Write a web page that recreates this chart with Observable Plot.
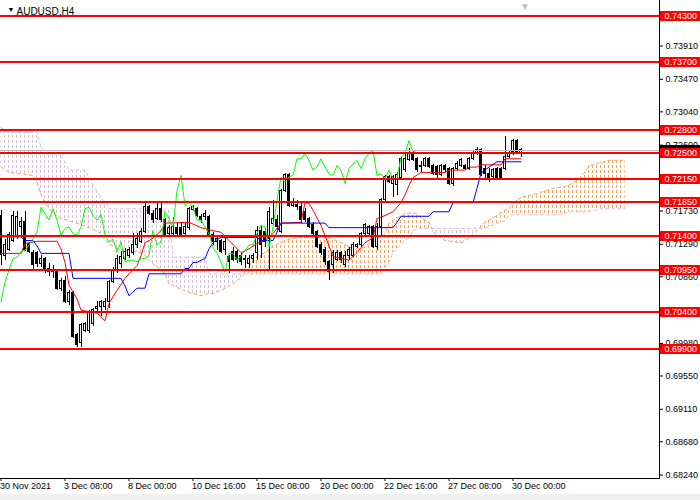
<!DOCTYPE html>
<html>
<head>
<meta charset="utf-8">
<script src="https://cdn.jsdelivr.net/npm/d3@7"></script>
<script src="https://cdn.jsdelivr.net/npm/@observablehq/plot@0.6"></script>
<style>
  body { margin: 0; background: #fff; }
  #chart svg { display: block; }
</style>
</head>
<body>
<div id="chart"></div>
<script>
// AUDUSD H4, one value per bar (bar 0 = first visible bar)
const opens = [0.7167,0.7114,0.7121,0.7134,0.7139,0.7152,0.7158,0.7130,0.7117,0.7117,
  0.7103,0.7110,0.7097,0.7092,0.7092,0.7070,0.7081,0.7053,0.7064,0.7009,
  0.6998,0.7015,0.7015,0.7024,0.7044,0.7046,0.7046,0.7053,0.7079,0.7095,
  0.7103,0.7110,0.7114,0.7117,0.7128,0.7132,0.7145,0.7178,0.7169,0.7163,
  0.7176,0.7161,0.7143,0.7143,0.7150,0.7150,0.7143,0.7150,0.7174,0.7175,
  0.7165,0.7165,0.7165,0.7141,0.7132,0.7134,0.7121,0.7112,0.7119,0.7119,
  0.7114,0.7108,0.7103,0.7110,0.7117,0.7147,0.7145,0.7136,0.7156,0.7161,
  0.7145,0.7200,0.7220,0.7180,0.7181,0.7178,0.7172,0.7163,0.7154,0.7145,
  0.7128,0.7121,0.7106,0.7101,0.7108,0.7117,0.7101,0.7114,0.7114,0.7125,
  0.7128,0.7143,0.7143,0.7152,0.7125,0.7152,0.7187,0.7218,0.7209,0.7208,
  0.7216,0.7227,0.7240,0.7249,0.7242,0.7233,0.7233,0.7242,0.7233,0.7231,
  0.7220,0.7233,0.7229,0.7209,0.7229,0.7233,0.7233,0.7229,0.7242,0.7249,
  0.7253,0.7229,0.7222,0.7218,0.7229,0.7229,0.7229,0.7244,0.7251,0.7266,
  0.7249];
const highs = [0.7174,0.7136,0.7145,0.7172,0.7172,0.7165,0.7172,0.7132,0.7121,0.7119,
  0.7114,0.7112,0.7103,0.7101,0.7095,0.7084,0.7086,0.7068,0.7066,0.7011,
  0.7024,0.7026,0.7042,0.7044,0.7053,0.7055,0.7057,0.7081,0.7099,0.7114,
  0.7119,0.7123,0.7125,0.7143,0.7143,0.7150,0.7183,0.7180,0.7174,0.7183,
  0.7183,0.7163,0.7154,0.7165,0.7156,0.7158,0.7156,0.7178,0.7180,0.7178,
  0.7169,0.7174,0.7167,0.7145,0.7141,0.7136,0.7139,0.7114,0.7125,0.7121,
  0.7117,0.7114,0.7114,0.7117,0.7152,0.7152,0.7150,0.7178,0.7187,0.7167,
  0.7202,0.7223,0.7222,0.7189,0.7187,0.7183,0.7176,0.7165,0.7158,0.7147,
  0.7132,0.7125,0.7108,0.7121,0.7121,0.7119,0.7119,0.7125,0.7132,0.7130,
  0.7145,0.7156,0.7154,0.7154,0.7156,0.7189,0.7220,0.7220,0.7220,0.7224,
  0.7244,0.7249,0.7255,0.7251,0.7244,0.7238,0.7244,0.7244,0.7235,0.7233,
  0.7235,0.7235,0.7231,0.7231,0.7238,0.7242,0.7235,0.7244,0.7251,0.7257,
  0.7255,0.7233,0.7229,0.7229,0.7231,0.7231,0.7271,0.7251,0.7268,0.7268,
  0.7255];
const lows = [0.7101,0.7108,0.7119,0.7132,0.7136,0.7139,0.7119,0.7117,0.7095,0.7099,
  0.7099,0.7090,0.7086,0.7084,0.7068,0.7066,0.7051,0.7048,0.7004,0.6993,
  0.6993,0.7013,0.7011,0.7020,0.7037,0.7033,0.7042,0.7044,0.7077,0.7090,
  0.7097,0.7108,0.7110,0.7114,0.7123,0.7130,0.7143,0.7167,0.7156,0.7161,
  0.7158,0.7139,0.7141,0.7141,0.7139,0.7139,0.7141,0.7147,0.7172,0.7165,
  0.7156,0.7161,0.7139,0.7128,0.7121,0.7117,0.7114,0.7090,0.7106,0.7103,
  0.7101,0.7097,0.7097,0.7103,0.7108,0.7110,0.7125,0.7095,0.7154,0.7147,
  0.7143,0.7198,0.7178,0.7178,0.7174,0.7156,0.7158,0.7150,0.7141,0.7123,
  0.7114,0.7101,0.7081,0.7090,0.7106,0.7103,0.7099,0.7108,0.7112,0.7123,
  0.7125,0.7141,0.7141,0.7123,0.7121,0.7139,0.7185,0.7209,0.7191,0.7194,
  0.7213,0.7224,0.7238,0.7238,0.7224,0.7224,0.7231,0.7229,0.7220,0.7216,
  0.7218,0.7224,0.7207,0.7205,0.7227,0.7231,0.7227,0.7227,0.7240,0.7246,
  0.7218,0.7216,0.7211,0.7216,0.7213,0.7213,0.7227,0.7242,0.7246,0.7249,
  0.7244];
const closes = [0.7115,0.7128,0.7141,0.7167,0.7165,0.7158,0.7121,0.7119,0.7101,0.7103,
  0.7110,0.7095,0.7092,0.7095,0.7070,0.7081,0.7053,0.7064,0.7007,0.6996,
  0.7022,0.7024,0.7040,0.7042,0.7046,0.7053,0.7053,0.7079,0.7095,0.7110,
  0.7112,0.7119,0.7121,0.7128,0.7136,0.7145,0.7178,0.7169,0.7161,0.7176,
  0.7161,0.7141,0.7150,0.7152,0.7143,0.7141,0.7152,0.7176,0.7178,0.7167,
  0.7161,0.7169,0.7141,0.7132,0.7136,0.7119,0.7132,0.7106,0.7108,0.7108,
  0.7106,0.7110,0.7110,0.7114,0.7147,0.7128,0.7132,0.7172,0.7163,0.7152,
  0.7200,0.7220,0.7180,0.7185,0.7178,0.7161,0.7161,0.7152,0.7143,0.7125,
  0.7117,0.7106,0.7092,0.7117,0.7117,0.7108,0.7114,0.7121,0.7128,0.7128,
  0.7143,0.7154,0.7152,0.7125,0.7152,0.7187,0.7218,0.7211,0.7218,0.7220,
  0.7242,0.7242,0.7249,0.7240,0.7227,0.7231,0.7242,0.7231,0.7222,0.7220,
  0.7233,0.7227,0.7209,0.7229,0.7235,0.7240,0.7229,0.7242,0.7249,0.7253,
  0.7220,0.7222,0.7216,0.7227,0.7216,0.7216,0.7244,0.7249,0.7266,0.7251,
  0.7253];

// Ichimoku lines (bar index, price)
const tenkanBar = [0,5,6,9,14,15,16,17,19,20,24,26,27,29,31,32,34,35,36,38,40,41,47,50,53,55,57,60,62,64,66,68,70,75,76,77,78,80,82,83,87,89,91,93,94,96,98,100,101,102,103,105,111,112,116,117,119,120,125,126,130];
const tenkanVal = [0.7117,0.7117,0.7130,0.7133,0.7133,0.7123,0.7105,0.7075,0.7057,0.7042,0.7038,0.7028,0.7051,0.7068,0.7084,0.7090,0.7101,0.7114,0.7131,0.7137,0.7147,0.7157,0.7158,0.7151,0.7147,0.7145,0.7134,0.7118,0.7123,0.7130,0.7134,0.7143,0.7157,0.7158,0.7184,0.7183,0.7174,0.7154,0.7127,0.7113,0.7108,0.7118,0.7131,0.7138,0.7163,0.7167,0.7172,0.7184,0.7194,0.7207,0.7217,0.7224,0.7224,0.7227,0.7227,0.7231,0.7231,0.7234,0.7234,0.7242,0.7242];
const kijunBar = [0,5,6,8,9,10,17,18,30,31,32,33,34,36,37,45,46,47,48,49,50,51,52,53,54,55,64,65,68,69,70,81,82,98,99,100,107,108,112,113,118,119,120,122,124,130];
const kijunVal = [0.7139,0.7139,0.7134,0.7134,0.7127,0.7117,0.7117,0.7084,0.7084,0.7074,0.7061,0.7066,0.7071,0.7071,0.7090,0.7090,0.7097,0.7097,0.7105,0.7105,0.7108,0.7110,0.7123,0.7131,0.7135,0.7138,0.7138,0.7134,0.7134,0.7145,0.7157,0.7157,0.7151,0.7151,0.7158,0.7166,0.7166,0.7172,0.7172,0.7184,0.7184,0.7203,0.7223,0.7231,0.7238,0.7238];
const chikouShift = 26;

// cloud: Senkou span A and B on a shared bar grid (runs 26 bars past the last candle)
const cloudBar = [0,2,8,9,10,11,13,15,16,17,21,22,23,25,26,27,29,35,36,37,41,42,43,44,47,50,51,52,53,55,58,60,62,63,66,68,71,74,82,85,88,90,92,94,95,96,97,98,99,100,101,102,103,104,105,107,108,111,115,117,119,121,124,126,127,128,130,134,138,140,142,144,146,147,150,152,156];
const spanA = [0.7231,0.7224,0.7220,0.7211,0.7194,0.7184,0.7170,0.7163,0.7162,0.7160,0.7153,0.7151,0.7149,0.7143,0.7134,0.7130,0.7123,0.7118,0.7114,0.7108,0.7090,0.7077,0.7075,0.7072,0.7065,0.7061,0.7063,0.7064,0.7064,0.7068,0.7077,0.7085,0.7098,0.7110,0.7118,0.7127,0.7134,0.7138,0.7138,0.7131,0.7123,0.7123,0.7130,0.7137,0.7139,0.7143,0.7157,0.7160,0.7164,0.7166,0.7170,0.7170,0.7170,0.7170,0.7164,0.7158,0.7145,0.7134,0.7131,0.7137,0.7147,0.7158,0.7167,0.7174,0.7176,0.7183,0.7191,0.7196,0.7203,0.7204,0.7207,0.7213,0.7224,0.7233,0.7237,0.7240,0.7240];
const spanB = [0.7283,0.7277,0.7277,0.7277,0.7257,0.7250,0.7250,0.7250,0.7236,0.7227,0.7227,0.7217,0.7207,0.7191,0.7184,0.7176,0.7176,0.7176,0.7174,0.7174,0.7174,0.7174,0.7112,0.7112,0.7112,0.7112,0.7112,0.7090,0.7090,0.7090,0.7090,0.7090,0.7090,0.7090,0.7090,0.7090,0.7090,0.7090,0.7090,0.7090,0.7090,0.7090,0.7090,0.7090,0.7090,0.7097,0.7105,0.7118,0.7123,0.7130,0.7134,0.7138,0.7147,0.7149,0.7150,0.7150,0.7150,0.7150,0.7150,0.7150,0.7150,0.7150,0.7157,0.7160,0.7168,0.7168,0.7168,0.7168,0.7168,0.7168,0.7172,0.7172,0.7172,0.7172,0.7176,0.7176,0.7176];

// horizontal levels drawn on the chart
const levels = [0.7430, 0.7370, 0.7280, 0.7250, 0.7215, 0.7185, 0.7140, 0.7095, 0.7040, 0.6990];
const bidPrice = 0.7253;

// axis ticks
const priceTicks = [0.7391, 0.7347, 0.7304, 0.7260, 0.7173, 0.7129, 0.7086, 0.6998, 0.6955, 0.6911, 0.6868, 0.6824];
const timeTickBars = [0, 16, 32, 48, 64, 80, 96, 112, 128];
const timeTickLabels = ["30 Nov 2021", "3 Dec 08:00", "8 Dec 00:00", "10 Dec 16:00", "15 Dec 08:00", "20 Dec 00:00", "22 Dec 16:00", "27 Dec 08:00", "30 Dec 00:00"];

const bars = opens.map((o, i) => ({i, o, h: highs[i], l: lows[i], c: closes[i]}));
const tenkan = tenkanBar.map((b, k) => ({b, v: tenkanVal[k]}));
const kijun = kijunBar.map((b, k) => ({b, v: kijunVal[k]}));
const cloud = cloudBar.map((b, k) => ({b, a: spanA[k], s: spanB[k]}));

const fmt = d3.format('.5f');
const font = "'Liberation Sans', Arial, sans-serif";

let chart = Plot.plot({
  width: 700,
  height: 500,
  marginLeft: 0,
  marginRight: 41,
  marginTop: 0,
  marginBottom: 22,
  style: {
    fontFamily: font,
    fontSize: '9px',
    background: 'linear-gradient(#fff 0 494px, #f0f0f0 494px)'
  },
  x: {
    domain: [-0.125, 164.625],
    axis: 'bottom',
    ticks: timeTickBars,
    tickFormat: () => '',
    tickSize: 3,
    line: true,
    label: null
  },
  y: {
    domain: [0.681954, 0.745114],
    axis: 'right',
    ticks: priceTicks,
    tickFormat: fmt,
    tickSize: 3,
    tickPadding: 3,
    line: true,
    label: null
  },
  marks: [
    // kumo hatching
    Plot.areaY(cloud, {x: 'b', y1: 's', y2: d => Math.max(d.a, d.s), fill: 'url(#hatchUp)'}),
    Plot.areaY(cloud, {x: 'b', y1: 'a', y2: d => Math.max(d.a, d.s), fill: 'url(#hatchDown)'}),
    Plot.line(cloud, {x: 'b', y: 'a', stroke: '#f4a460', strokeWidth: 1, strokeDasharray: '3,3'}),
    Plot.line(cloud, {x: 'b', y: 's', stroke: '#d8bfd8', strokeWidth: 1, strokeDasharray: '3,3'}),

    // candles
    Plot.ruleX(bars, {x: 'i', y1: 'l', y2: 'h', stroke: 'black', shapeRendering: 'crispEdges'}),
    Plot.rect(bars.filter(d => d.c >= d.o), {
      x1: d => d.i - 0.5, x2: d => d.i + 0.5, y1: 'o', y2: 'c',
      insetLeft: 1, insetRight: 1, fill: 'white', stroke: 'black', shapeRendering: 'crispEdges'
    }),
    Plot.rect(bars.filter(d => d.c < d.o), {
      x1: d => d.i - 0.5, x2: d => d.i + 0.5, y1: 'c', y2: 'o',
      insetLeft: 1, insetRight: 1, fill: 'black', stroke: 'black', shapeRendering: 'crispEdges'
    }),

    // tenkan, kijun, chikou
    Plot.line(tenkan, {x: 'b', y: 'v', stroke: '#ff0000', strokeWidth: 1}),
    Plot.line(kijun, {x: 'b', y: 'v', stroke: '#0000ff', strokeWidth: 1}),
    Plot.line(bars.filter(d => d.i >= chikouShift), {x: d => d.i - chikouShift, y: 'c', stroke: '#00ff00', strokeWidth: 1}),

    // bid line and levels
    Plot.ruleY([bidPrice], {stroke: '#c0c0c0', shapeRendering: 'crispEdges'}),
    Plot.ruleY(levels, {stroke: '#ff0000', strokeWidth: 2, shapeRendering: 'crispEdges'}),

    // price tags on the right scale
    Plot.ruleY([bidPrice], {x1: 164.75, x2: 176, stroke: 'black', strokeWidth: 10, shapeRendering: 'crispEdges'}),
    Plot.ruleY(levels, {x1: 164.75, x2: 176, stroke: '#ff0000', strokeWidth: 10, shapeRendering: 'crispEdges'}),
    Plot.text(levels, {y: d => d, text: d => fmt(d), frameAnchor: 'right', dx: 5, textAnchor: 'start', fill: 'white', fontSize: 9}),

    // time labels
    Plot.text(timeTickBars, {x: d => d, text: (d, k) => timeTickLabels[k], frameAnchor: 'bottom', dy: 10, dx: -1, textAnchor: 'start', fill: 'black', fontSize: 9}),

    // chart shift marker and symbol title
    Plot.text([closes.length], {x: d => d, text: () => '▼', frameAnchor: 'top', dy: 2, fill: '#c0c0c0', fontSize: 10}),
    Plot.text(['▼'], {frameAnchor: 'top-left', dx: 7, dy: 7, fill: 'black', fontSize: 7}),
    Plot.text(['AUDUSD,H4'], {frameAnchor: 'top-left', dx: 16, dy: 7, textAnchor: 'start', fill: 'black', fontSize: 10})
  ]
})

// hatch patterns for the cloud (one dashed column per bar)
d3.select(chart).insert('defs', ':first-child').html(`
  <pattern id="hatchUp" patternUnits="userSpaceOnUse" x="0" y="0" width="4" height="5">
    <rect x="0" y="0" width="1" height="3" fill="#f4a460"/>
  </pattern>
  <pattern id="hatchDown" patternUnits="userSpaceOnUse" x="0" y="0" width="4" height="5">
    <rect x="0" y="0" width="1" height="3" fill="#d8bfd8"/>
  </pattern>`)

d3.select('#chart').append(() => chart)
</script>
</body>
</html>
